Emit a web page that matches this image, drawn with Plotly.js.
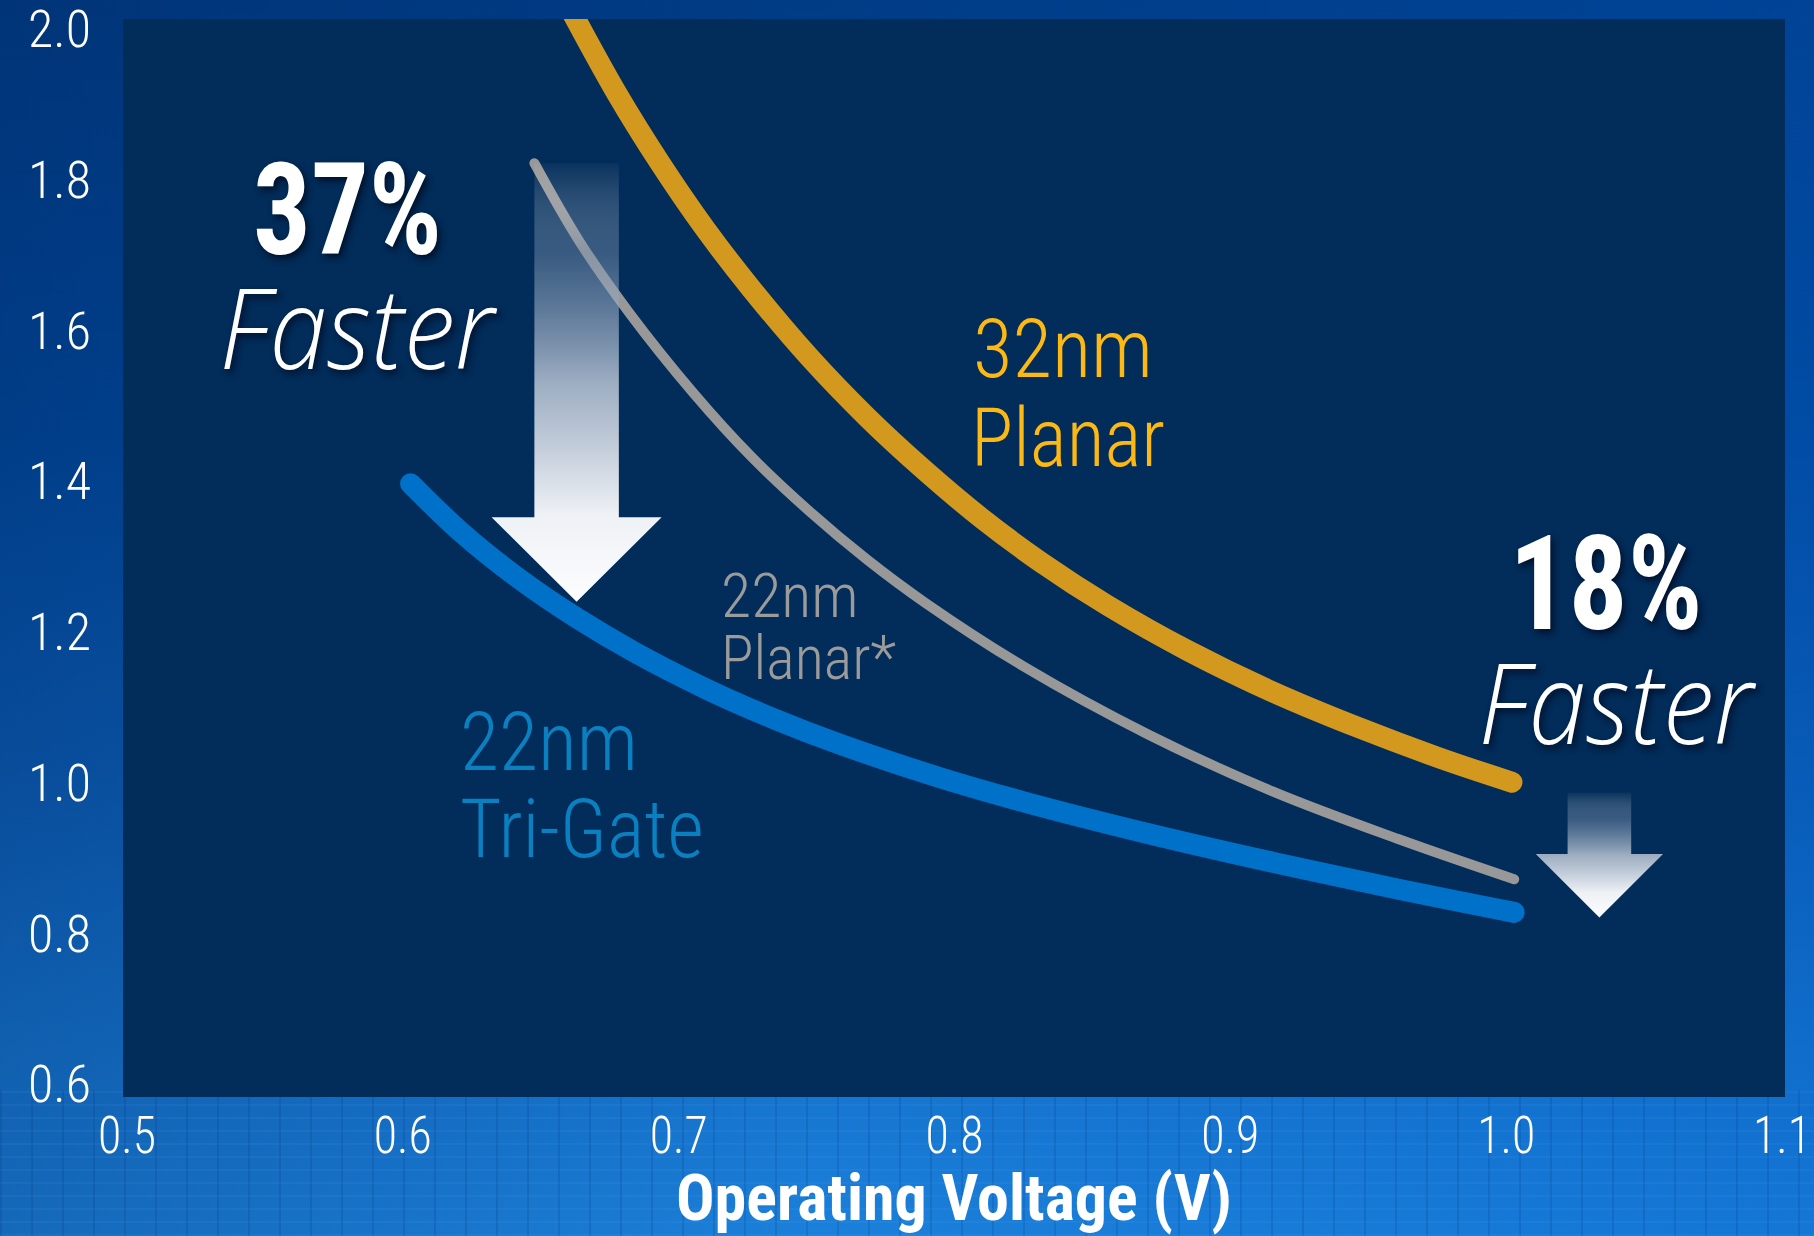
<!DOCTYPE html>
<html>
<head>
<meta charset="utf-8">
<script src="https://cdn.plot.ly/plotly-3.0.1.min.js"></script>
<style>
  html, body { margin: 0; padding: 0; }
  body { width: 1814px; height: 1236px; overflow: hidden; }
  #chart {
    width: 1814px; height: 1236px;
    background:
      repeating-linear-gradient(90deg, rgba(0,45,120,0.16) 0px, rgba(0,45,120,0.16) 2px, rgba(0,0,0,0) 2px, rgba(0,0,0,0) 31px) 0 1090px / 1814px 146px no-repeat,
      repeating-linear-gradient(0deg, rgba(90,170,255,0.09) 0px, rgba(90,170,255,0.09) 2px, rgba(0,0,0,0) 2px, rgba(0,0,0,0) 13px) 0 1090px / 1814px 146px no-repeat,
      linear-gradient(90deg, rgba(0,25,70,0.22) 0%, rgba(0,0,0,0) 45%, rgba(0,90,200,0.25) 100%),
      linear-gradient(180deg, #003c86 0%, #00479a 35%, #0a5bb2 62%, #1472cc 84%, #1b80da 100%);
  }
  .scatterlayer path.js-line { stroke-linecap: round; stroke-linejoin: round; }
</style>
</head>
<body>
<div id="chart"></div>
<script>
// ---- data ----
const planar32_x = [0.6594, 0.6774, 0.6930, 0.7097, 0.7265, 0.7475, 0.7685, 0.7894, 0.8104, 0.8314, 0.8553, 0.8851, 0.9153, 0.9455, 0.9757, 1.0021];
const planar32_y = [2.0353, 1.9156, 1.8235, 1.7344, 1.6546, 1.5640, 1.4842, 1.4136, 1.3491, 1.2923, 1.2355, 1.1741, 1.1204, 1.0743, 1.0329, 1.0006];

const planar22_x = [0.6477, 0.6636, 0.6820, 0.7055, 0.7265, 0.7475, 0.7685, 0.7894, 0.8251, 0.8704, 0.9153, 0.9606, 1.0029];
const planar22_y = [1.8219, 1.7206, 1.6239, 1.5164, 1.4320, 1.3598, 1.2954, 1.2386, 1.1541, 1.0636, 0.9883, 0.9254, 0.8717];

const trigate22_x = [0.6028, 0.6216, 0.6426, 0.6636, 0.6846, 0.7102, 0.7349, 0.7584, 0.7945, 0.8251, 0.8704, 0.9153, 0.9606, 1.0029];
const trigate22_y = [1.3967, 1.3307, 1.2693, 1.2171, 1.1718, 1.1240, 1.0841, 1.0510, 1.0068, 0.9745, 0.9322, 0.8944, 0.8588, 0.8278];

const xTickVals = [0.5, 0.6, 0.7, 0.8, 0.9, 1.0, 1.1];
const xTickText = ['0.5', '0.6', '0.7', '0.8', '0.9', '1.0', '1.1'];
const yTickVals = [0.6, 0.8, 1.0, 1.2, 1.4, 1.6, 1.8, 2.0];
const yTickText = ['0.6', '0.8', '1.0', '1.2', '1.4', '1.6', '1.8', '2.0'];

const xTitle = 'Operating Voltage (V)';

// arrows: centre x, top y, head start y, tip y, half widths (axis units)
const bigArrow = {cx: 0.6630, top: 1.8219, head: 1.3522, tip: 1.2401, shaft: 0.01531, headW: 0.03083};
const smallArrow = {cx: 1.0338, top: 0.9868, head: 0.9054, tip: 0.8210, shaft: 0.01153, headW: 0.02307};

// ---- fonts ----
function fontAvailable(name) {
  const c = document.createElement('canvas').getContext('2d');
  const t = 'abcdefghijklmnopqrstuvwxyzABCDEFGHIJ0123456789%';
  const res = [];
  for (const base of ['monospace', 'serif']) {
    c.font = '72px ' + base; const a = c.measureText(t).width;
    c.font = "72px '" + name + "', " + base; const b = c.measureText(t).width;
    res.push(a !== b);
  }
  return res[0] || res[1];
}
const narrowCandidates = ['Liberation Sans Narrow', 'Arial Narrow', 'Roboto Condensed', 'DejaVu Sans Condensed', 'Liberation Sans'];
let NARROW = "'DejaVu Sans Condensed', sans-serif";
for (const f of narrowCandidates) { if (fontAvailable(f)) { NARROW = "'" + f + "', sans-serif"; break; } }
const ITAL = "'Open Sans', 'Noto Sans', sans-serif";

function arrowTrace(a, cs) {
  return {
    x: [a.cx - a.shaft, a.cx + a.shaft, a.cx + a.shaft, a.cx + a.headW, a.cx, a.cx - a.headW, a.cx - a.shaft, a.cx - a.shaft],
    y: [a.top, a.top, a.head, a.head, a.tip, a.head, a.head, a.top],
    mode: 'lines', fill: 'toself',
    line: {width: 0, color: 'rgba(0,0,0,0)'},
    fillgradient: {type: 'vertical', colorscale: cs},
    hoverinfo: 'skip', showlegend: false
  };
}
const arrowCS = [
  [0, 'rgba(252,253,254,1)'],
  [0.2, 'rgba(238,241,245,1)'],
  [0.5, 'rgba(196,206,220,0.8)'],
  [0.8, 'rgba(120,145,175,0.45)'],
  [1, 'rgba(255,255,255,0.03)']
];

const traces = [
  {x: planar32_x, y: planar32_y, mode: 'lines', line: {color: '#d3991f', width: 21, shape: 'spline', smoothing: 1}, name: '32nm Planar', showlegend: false, hoverinfo: 'skip'},
  {x: planar22_x, y: planar22_y, mode: 'lines', line: {color: '#989898', width: 10, shape: 'spline', smoothing: 1}, name: '22nm Planar*', showlegend: false, hoverinfo: 'skip'},
  {x: trigate22_x, y: trigate22_y, mode: 'lines', line: {color: '#0071c8', width: 21, shape: 'spline', smoothing: 1}, name: '22nm Tri-Gate', showlegend: false, hoverinfo: 'skip'},
  arrowTrace(bigArrow, arrowCS),
  arrowTrace(smallArrow, arrowCS)
];

const shadow = '3px 4px 6px rgba(0,10,30,0.75)';
// fitW: wanted text width in px (text is narrowed horizontally after drawing if wider)
const annSpecs = [
  {text: '37%', x: 0.5801, y: 1.7598, size: 128, color: '#ffffff', family: NARROW, weight: 700, anchor: 'center', fitW: 189, shadow: true},
  {text: 'Faster', x: 0.5840, y: 1.6059, size: 112, color: '#ffffff', family: ITAL, weight: 300, style: 'italic', anchor: 'center', fitW: 278, shadow: true},
  {text: '18%', x: 1.0363, y: 1.2635, size: 132, color: '#ffffff', family: NARROW, weight: 700, anchor: 'center', fitW: 193, shadow: true},
  {text: 'Faster', x: 1.0403, y: 1.1096, size: 112, color: '#ffffff', family: ITAL, weight: 300, style: 'italic', anchor: 'center', fitW: 278, shadow: true},
  {text: '32nm', x: 0.8064, y: 1.5756, size: 82, color: '#fdb913', family: NARROW, weight: 300, anchor: 'left', fitW: 180},
  {text: 'Planar', x: 0.8055, y: 1.4574, size: 82, color: '#fdb913', family: NARROW, weight: 300, anchor: 'left', fitW: 194},
  {text: '22nm', x: 0.7149, y: 1.2477, size: 62, color: '#9b9b9b', family: NARROW, weight: 300, anchor: 'left', fitW: 140},
  {text: 'Planar*', x: 0.7149, y: 1.1664, size: 62, color: '#9b9b9b', family: NARROW, weight: 300, anchor: 'left', fitW: 175},
  {text: '22nm', x: 0.6205, y: 1.0536, size: 82, color: '#0a80c0', family: NARROW, weight: 300, anchor: 'left', fitW: 178},
  {text: 'Tri-Gate', x: 0.6205, y: 0.9384, size: 82, color: '#0a80c0', family: NARROW, weight: 300, anchor: 'left', fitW: 244}
];

const annotations = annSpecs.map(s => ({
  text: s.text, x: s.x, y: s.y, xref: 'x', yref: 'y', showarrow: false,
  xanchor: s.anchor, yanchor: 'middle', borderpad: 0,
  font: Object.assign({family: s.family, size: s.size, color: s.color},
    s.weight ? {weight: s.weight} : {},
    s.style ? {style: s.style} : {},
    s.shadow ? {shadow: shadow} : {})
}));

const layout = {
  width: 1814, height: 1236,
  margin: {l: 123, r: 29, t: 19, b: 139, pad: 0},
  paper_bgcolor: 'rgba(0,0,0,0)',
  plot_bgcolor: '#022c59',
  showlegend: false,
  xaxis: {
    range: [0.49855, 1.10109],
    tickvals: xTickVals, ticktext: xTickText,
    showgrid: false, zeroline: false, showline: false, ticks: '',
    ticklabelstandoff: 3, ticklabeloverflow: 'allow',
    tickfont: {family: NARROW, size: 52, color: '#ffffff', weight: 300},
    title: {text: xTitle, font: {family: NARROW, size: 64, color: '#ffffff', weight: 700}, standoff: 25},
    fixedrange: true
  },
  yaxis: {
    range: [0.5828, 2.01327],
    tickvals: yTickVals, ticktext: yTickText,
    showgrid: false, zeroline: false, showline: false, ticks: '',
    ticklabelstandoff: 31, ticklabeloverflow: 'allow',
    tickfont: {family: NARROW, size: 52, color: '#ffffff', weight: 300},
    fixedrange: true
  },
  annotations: annotations
};

// narrow a text element horizontally to a wanted width, keeping its left / centre / right in place
function narrowText(el, wantW, pivot, dy) {
  const bb = el.getBBox();
  const prev = el.getAttribute('transform') || '';
  let extra = dy ? ' translate(0,' + dy + ')' : '';
  if (bb.width && bb.width > wantW) {
    const sx = wantW / bb.width;
    const px = pivot === 'left' ? bb.x : pivot === 'right' ? bb.x + bb.width : bb.x + bb.width / 2;
    extra += ' translate(' + px + ',0) scale(' + sx + ',1) translate(' + (-px) + ',0)';
  }
  if (extra) el.setAttribute('transform', (prev + extra).trim());
}

Plotly.newPlot('chart', traces, layout, {staticPlot: true, displayModeBar: false}).then(gd => {
  const annEls = gd.querySelectorAll('.annotation');
  annEls.forEach(g => {
    const idx = +g.getAttribute('data-index');
    const spec = annSpecs[idx];
    const t = g.querySelector('text');
    if (spec && t) narrowText(t, spec.fitW, spec.anchor === 'left' ? 'left' : 'center');
  });
  gd.querySelectorAll('.xtick text').forEach(t => narrowText(t, 58, 'center'));
  gd.querySelectorAll('.ytick text').forEach(t => narrowText(t, 64, 'right'));
  const xt = gd.querySelector('.g-xtitle text');
  if (xt) narrowText(xt, 585, 'center', 0);
});
</script>
</body>
</html>
